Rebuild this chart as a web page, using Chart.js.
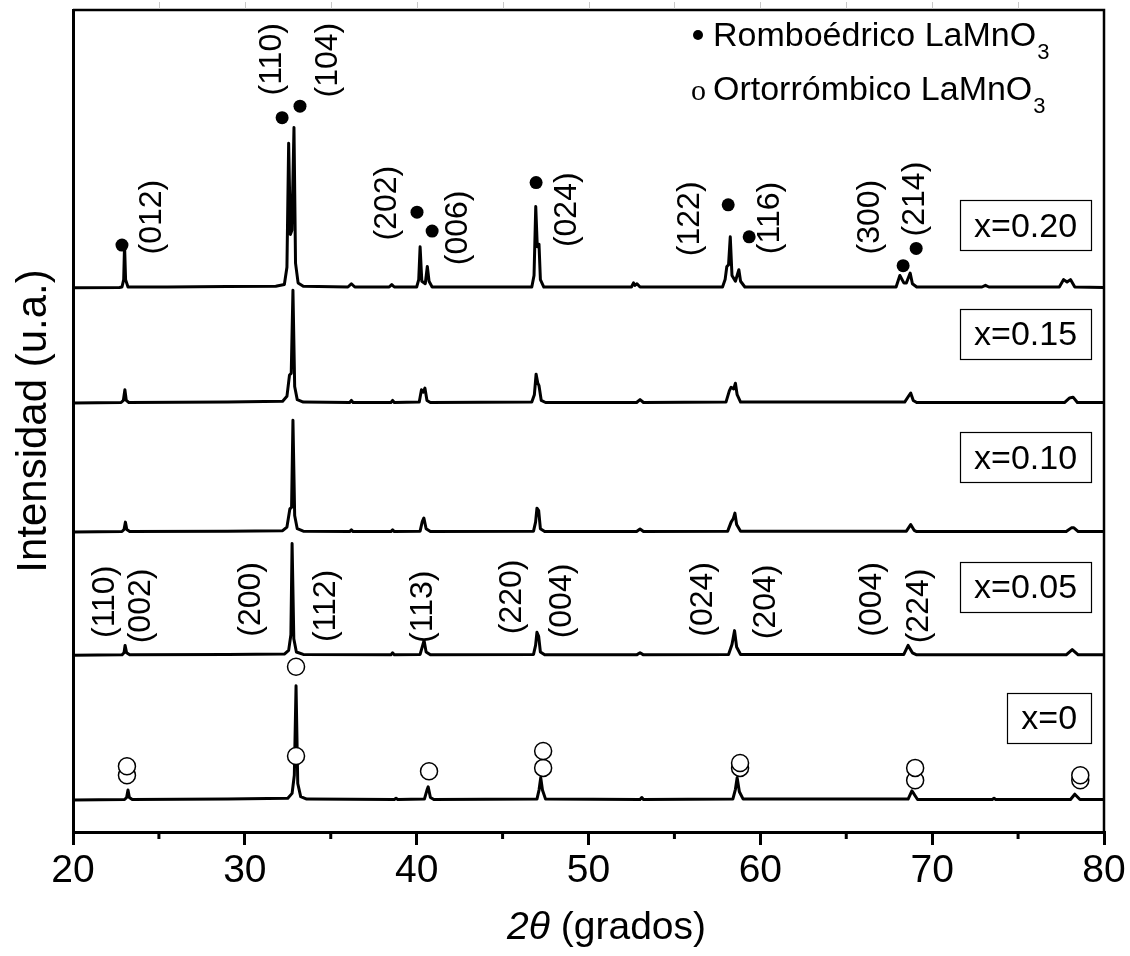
<!DOCTYPE html>
<html>
<head>
<meta charset="utf-8">
<script src="https://cdn.jsdelivr.net/npm/chart.js@4.4.1/dist/chart.umd.min.js"></script>
<style>
  html, body { margin: 0; padding: 0; background: #fff; }
  #wrap { width: 1130px; height: 956px; }
</style>
</head>
<body>
<div id="wrap"><canvas id="xrd" width="1130" height="956"></canvas></div>
<script>
// ---- Diffractograms for each composition: [2θ, relative intensity] ----
const sampleNames   = ['x=0.20', 'x=0.15', 'x=0.10', 'x=0.05', 'x=0'];
const sampleOffsets = [66.2, 52.2, 36.5, 21.5, 3.9];
const sampleLabelY  = [73.8, 60.6, 45.6, 29.8, 13.9];

const patternX020 = [
  [20,0],[22.7,0.05],[22.85,0.1],[22.95,1.0],[23.0,5.2],[23.06,1.0],[23.2,0.1],
  [25.5,0.1],[29,0.15],[31.8,0.2],[32.3,0.4],[32.45,2.5],[32.55,17.6],[32.65,6.5],
  [32.74,7.0],[32.86,19.5],[32.95,3.0],[33.1,0.6],[33.4,0.2],
  [36.0,0.1],[36.2,0.5],[36.4,0.1],[38.4,0.1],[38.55,0.4],[38.7,0.1],
  [40.0,0.1],[40.12,1.0],[40.2,5.0],[40.3,0.8],[40.5,0.5],[40.62,2.6],[40.72,0.8],[40.9,0.1],
  [46.7,0.1],[46.83,1.5],[46.93,9.9],[47.02,5.0],[47.12,5.3],[47.2,1.0],[47.4,0.1],
  [52.5,0.1],[52.62,0.6],[52.7,0.3],[52.82,0.5],[53.0,0.1],
  [57.8,0.1],[57.95,1.0],[58.05,2.6],[58.15,2.8],[58.25,6.2],[58.35,1.5],[58.55,0.8],
  [58.75,2.2],[58.85,0.8],[59.1,0.1],
  [67.9,0.1],[68.12,1.5],[68.35,0.6],[68.5,0.6],[68.72,1.8],[68.85,0.5],[69.1,0.1],
  [72.9,0.1],[73.1,0.3],[73.3,0.1],
  [77.4,0.1],[77.65,1.0],[77.85,0.7],[78.05,1.0],[78.3,0.1],[80,0.05]
];

const patternX015 = [
  [20,0],[22.8,0.05],[22.93,0.3],[23.02,1.6],[23.1,0.3],[23.25,0.05],
  [29,0.1],[32.2,0.2],[32.45,0.8],[32.6,3.4],[32.7,3.6],[32.8,13.7],[32.9,2.0],[33.05,0.4],[33.4,0.1],
  [36.1,0.05],[36.2,0.3],[36.3,0.05],[38.5,0.05],[38.6,0.3],[38.7,0.05],
  [40.15,0.1],[40.28,1.6],[40.38,1.3],[40.48,1.8],[40.6,0.3],[40.8,0.05],
  [46.7,0.1],[46.85,1.0],[46.95,3.5],[47.05,2.4],[47.12,2.1],[47.25,0.3],[47.5,0.05],
  [52.8,0.05],[53.0,0.4],[53.2,0.05],
  [58.0,0.1],[58.2,1.5],[58.3,1.9],[58.45,1.7],[58.55,2.4],[58.65,1.0],[58.85,0.1],
  [68.4,0.1],[68.65,0.9],[68.75,1.2],[68.9,0.3],[69.1,0.05],
  [77.7,0.05],[78.0,0.6],[78.2,0.7],[78.45,0.05],[80,0.05]
];

const patternX010 = [
  [20,0],[22.85,0.05],[22.97,0.3],[23.05,1.2],[23.13,0.3],[23.3,0.05],
  [29,0.1],[32.2,0.15],[32.45,0.6],[32.62,2.8],[32.72,3.0],[32.8,13.6],[32.9,2.0],[33.05,0.4],[33.4,0.1],
  [36.1,0.05],[36.2,0.25],[36.3,0.05],[38.5,0.05],[38.6,0.25],[38.7,0.05],
  [40.2,0.1],[40.33,1.3],[40.42,1.7],[40.55,0.4],[40.8,0.05],
  [46.8,0.1],[46.92,1.2],[47.0,2.9],[47.1,2.6],[47.2,0.4],[47.45,0.05],
  [52.8,0.05],[53.0,0.35],[53.2,0.05],
  [58.1,0.1],[58.3,1.2],[58.42,1.6],[58.52,2.3],[58.62,0.9],[58.85,0.1],
  [68.5,0.1],[68.75,0.9],[68.95,0.2],[69.1,0.05],
  [77.8,0.05],[78.1,0.5],[78.25,0.5],[78.5,0.05],[80,0.05]
];

const patternX005 = [
  [20,0],[22.85,0.05],[22.97,0.3],[23.03,1.2],[23.12,0.3],[23.3,0.05],
  [29,0.1],[32.3,0.15],[32.55,0.6],[32.68,2.5],[32.75,13.6],[32.85,2.0],[33.0,0.4],[33.4,0.1],
  [38.5,0.05],[38.6,0.3],[38.7,0.05],
  [40.2,0.1],[40.35,1.2],[40.43,1.8],[40.55,0.4],[40.8,0.05],
  [46.8,0.1],[46.92,1.2],[47.0,2.8],[47.1,2.3],[47.2,0.4],[47.45,0.05],
  [52.8,0.05],[53.0,0.3],[53.2,0.05],
  [58.15,0.1],[58.35,1.3],[58.5,3.0],[58.62,1.0],[58.85,0.1],
  [68.35,0.1],[68.6,1.2],[68.85,0.3],[69.1,0.05],
  [77.8,0.05],[78.15,0.7],[78.5,0.05],[80,0.05]
];

const patternX000 = [
  [20,0],[23.0,0.05],[23.12,0.3],[23.2,1.2],[23.28,0.3],[23.45,0.05],
  [29,0.1],[32.5,0.2],[32.75,0.8],[32.88,3.0],[32.98,13.9],[33.08,2.0],[33.25,0.4],[33.6,0.1],
  [38.7,0.05],[38.8,0.2],[38.9,0.05],
  [40.45,0.1],[40.6,1.2],[40.67,1.6],[40.8,0.3],[41.0,0.05],
  [47.0,0.1],[47.12,1.2],[47.22,2.7],[47.32,1.2],[47.5,0.1],
  [53.0,0.05],[53.1,0.3],[53.2,0.05],
  [58.4,0.1],[58.55,1.3],[58.65,2.7],[58.78,1.0],[59.0,0.1],
  [68.6,0.1],[68.82,1.1],[68.95,0.7],[69.15,0.05],
  [73.5,0.05],[73.6,0.2],[73.7,0.05],
  [78.05,0.05],[78.3,0.7],[78.6,0.05],[80,0.05]
];

// Phase markers (2θ, stacked intensity position)
const romboTheta = [22.85, 32.17, 33.21, 40.02, 40.90, 46.95, 58.13, 59.35, 68.31, 69.07];
const romboY     = [71.4, 86.9, 88.3, 75.4, 73.1, 79.0, 76.3, 72.4, 68.9, 71.0];

const orthoTheta = [32.98, 23.14, 23.14, 32.98, 40.72, 47.36, 47.36, 58.82, 58.82, 69.01, 69.01, 78.62, 78.62];
const orthoY     = [20.1, 6.9, 8.0, 9.25, 7.4, 7.8, 9.85, 7.8, 8.4, 6.3, 7.8, 6.3, 6.9];

// Miller indices: rhombohedral set (x=0.20) and orthorhombic set (x=0.05)
const hklRomboText  = ['(012)','(110)','(104)','(202)','(006)','(024)','(122)','(116)','(300)','(214)'];
const hklRomboTheta = [24.60, 31.58, 34.84, 38.28, 42.41, 48.75, 55.91, 60.57, 66.39, 69.01];
const hklRomboY     = [74.8, 94.0, 93.9, 76.5, 73.5, 75.7, 74.6, 74.7, 74.8, 77.0];

const hklOrthoText  = ['(110)','(002)','(200)','(112)','(113)','(220)','(004)','(024)','(204)','(004)','(224)'];
const hklOrthoTheta = [21.86, 23.96, 30.36, 34.73, 40.37, 45.55, 48.46, 56.67, 60.34, 66.51, 69.24];
const hklOrthoY     = [28.0, 27.5, 28.3, 27.5, 27.4, 28.6, 28.1, 28.3, 28.0, 28.3, 27.5];

const xTicks = [20, 30, 40, 50, 60, 70, 80];
const xMinorTicks = [25, 35, 45, 55, 65, 75];
const sampleLabelTheta = 79.25;

const patterns = [patternX020, patternX015, patternX010, patternX005, patternX000];

const FONT = "'Liberation Sans', Arial, Helvetica, sans-serif";

// ---- datasets ----
const lineSets = patterns.map((pat, i) => ({
  type: 'line',
  label: sampleNames[i],
  data: pat.map(p => ({ x: p[0], y: p[1] + sampleOffsets[i] })),
  borderColor: '#000',
  borderWidth: 3,
  borderJoinStyle: 'round',
  borderCapStyle: 'round',
  pointRadius: 0,
  tension: 0,
  fill: false,
  order: 2
}));

const romboSet = {
  type: 'scatter',
  label: 'Romboédrico',
  data: romboTheta.map((t, i) => ({ x: t, y: romboY[i] })),
  pointRadius: 6.5,
  pointBackgroundColor: '#000',
  pointBorderColor: '#000',
  pointBorderWidth: 0,
  showLine: false,
  order: 0
};

const orthoSet = {
  type: 'scatter',
  label: 'Ortorrómbico',
  data: orthoTheta.map((t, i) => ({ x: t, y: orthoY[i] })),
  pointRadius: 8.5,
  pointBackgroundColor: '#fff',
  pointBorderColor: '#000',
  pointBorderWidth: 1.5,
  showLine: false,
  order: 0
};

// ---- frame, minor ticks, labels, legend and titles ----
const decorations = {
  id: 'decorations',
  afterDatasetsDraw(chart) {
    const { ctx, chartArea: a, scales: { x, y } } = chart;
    ctx.save();

    // frame: top and right edges
    ctx.strokeStyle = '#000';
    ctx.lineWidth = 2.5;
    ctx.beginPath();
    ctx.moveTo(a.left, a.top);
    ctx.lineTo(a.right, a.top);
    ctx.lineTo(a.right, a.bottom);
    ctx.stroke();

    // faint ticks on the top edge
    ctx.strokeStyle = '#c8c8c8';
    ctx.lineWidth = 1;
    for (let v = 25; v < 80; v += 5) {
      const px = Math.round(x.getPixelForValue(v)) + 0.5;
      ctx.beginPath();
      ctx.moveTo(px, a.top - 8);
      ctx.lineTo(px, a.top - 1);
      ctx.stroke();
    }

    // minor ticks on the bottom axis
    ctx.strokeStyle = '#000';
    ctx.lineWidth = 3;
    xMinorTicks.forEach(v => {
      const px = x.getPixelForValue(v);
      ctx.beginPath();
      ctx.moveTo(px, a.bottom);
      ctx.lineTo(px, a.bottom + 7);
      ctx.stroke();
    });

    // Miller indices, rotated
    ctx.fillStyle = '#000';
    ctx.font = '32px ' + FONT;
    ctx.textAlign = 'center';
    ctx.textBaseline = 'middle';
    const drawHkl = (texts, thetas, ys) => {
      texts.forEach((t, i) => {
        ctx.save();
        ctx.translate(x.getPixelForValue(thetas[i]), y.getPixelForValue(ys[i]));
        ctx.rotate(-Math.PI / 2);
        ctx.fillText(t, 0, 0);
        ctx.restore();
      });
    };
    drawHkl(hklRomboText, hklRomboTheta, hklRomboY);
    drawHkl(hklOrthoText, hklOrthoTheta, hklOrthoY);

    // sample labels in boxes
    ctx.font = '34px ' + FONT;
    sampleNames.forEach((name, i) => {
      const tw = ctx.measureText(name).width;
      const w = tw + 28, h = 50;
      const right = x.getPixelForValue(sampleLabelTheta);
      const cy = y.getPixelForValue(sampleLabelY[i]);
      ctx.fillStyle = '#fff';
      ctx.fillRect(right - w, cy - h / 2, w, h);
      ctx.strokeStyle = '#000';
      ctx.lineWidth = 1.2;
      ctx.strokeRect(Math.round(right - w) + 0.5, Math.round(cy - h / 2) + 0.5, Math.round(w), h);
      ctx.fillStyle = '#000';
      ctx.textAlign = 'center';
      ctx.textBaseline = 'middle';
      ctx.fillText(name, right - w / 2, cy + 2);
    });

    // legend
    const lx = a.left + 640;
    ctx.textAlign = 'left';
    ctx.textBaseline = 'alphabetic';
    ctx.fillStyle = '#000';
    ctx.beginPath();
    ctx.arc(lx - 15, a.top + 25, 5, 0, Math.PI * 2);
    ctx.fill();
    ctx.font = '34px ' + FONT;
    const t1 = 'Romboédrico LaMnO';
    ctx.fillText(t1, lx, a.top + 36);
    const w1 = ctx.measureText(t1).width;
    ctx.font = '22px ' + FONT;
    ctx.fillText('3', lx + w1 + 1, a.top + 49);

    ctx.font = '30px "Liberation Serif", "Times New Roman", serif';
    ctx.fillText('ο', lx - 22, a.top + 90);
    ctx.font = '34px ' + FONT;
    const t2 = 'Ortorrómbico LaMnO';
    ctx.fillText(t2, lx, a.top + 90);
    const w2 = ctx.measureText(t2).width;
    ctx.font = '22px ' + FONT;
    ctx.fillText('3', lx + w2 + 1, a.top + 103);

    // axis titles
    ctx.font = '42px ' + FONT;
    ctx.textAlign = 'center';
    ctx.textBaseline = 'middle';
    ctx.save();
    ctx.translate(34, (a.top + a.bottom) / 2);
    ctx.rotate(-Math.PI / 2);
    ctx.fillText('Intensidad (u.a.)', 0, 0);
    ctx.restore();

    ctx.textBaseline = 'alphabetic';
    ctx.textAlign = 'left';
    ctx.font = 'italic 39px ' + FONT;
    const part1 = '2θ';
    const w3 = ctx.measureText(part1).width;
    ctx.font = '39px ' + FONT;
    const part2 = ' (grados)';
    const w4 = ctx.measureText(part2).width;
    const startX = 706 - (w3 + w4);
    ctx.font = 'italic 39px ' + FONT;
    ctx.fillText(part1, startX, 939);
    ctx.font = '39px ' + FONT;
    ctx.fillText(part2, startX + w3, 939);

    ctx.restore();
  }
};

new Chart(document.getElementById('xrd'), {
  data: { datasets: [romboSet, orthoSet, ...lineSets] },
  options: {
    responsive: false,
    animation: false,
    devicePixelRatio: 1,
    layout: { padding: { left: 0, top: 10, right: 26, bottom: 0 } },
    plugins: { legend: { display: false }, tooltip: { enabled: false } },
    scales: {
      x: {
        type: 'linear',
        min: 20, max: 80,
        afterFit(scale) { scale.height = 124; },
        afterBuildTicks(scale) { scale.ticks = xTicks.map(v => ({ value: v })); },
        ticks: {
          color: '#000',
          font: { family: FONT, size: 39 },
          padding: 3,
          maxRotation: 0,
          autoSkip: false
        },
        grid: {
          drawOnChartArea: false,
          drawTicks: true,
          tickLength: 13,
          tickWidth: 3,
          tickColor: '#000',
          lineWidth: 3,
          color: '#000'
        },
        border: { display: true, color: '#000', width: 3 }
      },
      y: {
        type: 'linear',
        min: 0, max: 100,
        afterFit(scale) { scale.width = 73; },
        ticks: { display: false },
        grid: { display: false, drawTicks: false },
        border: { display: true, color: '#000', width: 3 }
      }
    }
  },
  plugins: [decorations]
});
</script>
</body>
</html>
